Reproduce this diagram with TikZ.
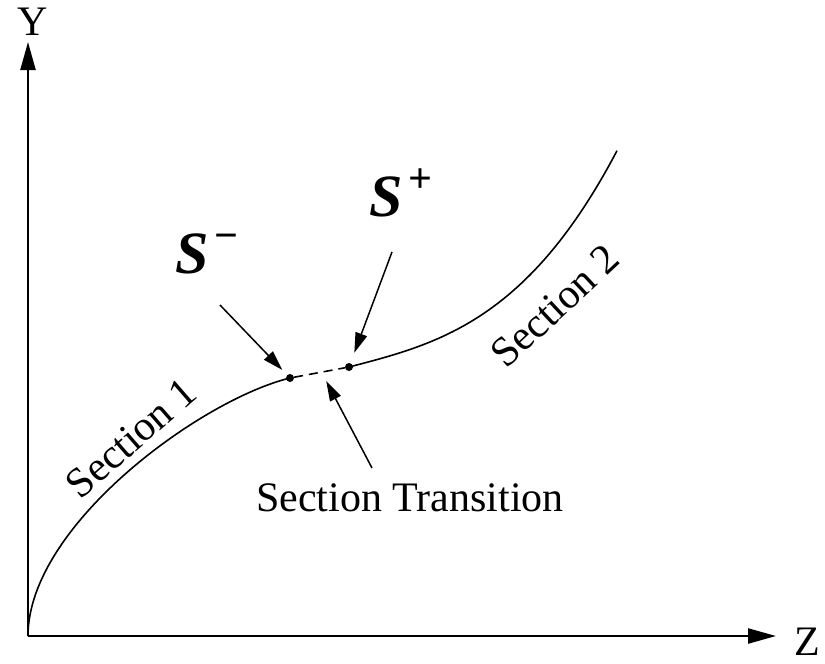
\documentclass[tikz,border=0pt]{standalone}
\usepackage{fontspec}
\setmainfont{Liberation Serif}
\usetikzlibrary{arrows.meta}
\begin{document}
\begin{tikzpicture}[x=1pt,y=-1pt,
  axis/.style={line width=2.4pt,-{Triangle[length=28pt,width=15pt]}},
  curveline/.style={line width=1.6pt},
  pointer/.style={line width=1.5pt,-{Triangle[length=20pt,width=12pt]}},
  dotnode/.style={circle,fill=black,inner sep=0pt,minimum size=8pt},
  lbl/.style={font=\fontsize{42}{48}\selectfont,inner sep=0pt},
  slbl/.style={font=\fontsize{60}{64}\selectfont\bfseries\itshape,inner sep=0pt}]
\useasboundingbox (0,0) rectangle (825,664);
\fill[white] (0,0) rectangle (825,664);
% axes
\coordinate (O) at (28,636);
\coordinate (Ytip) at (28,42);
\coordinate (Ztip) at (776,636);
\draw[axis] (O) -- (Ytip);
\draw[axis] (O) -- (Ztip);
\node[lbl] (Ylab) at (33,22) {Y};
\node[lbl] (Zlab) at (807,642) {Z};
% points
\node[dotnode] (Sm) at (290,378) {};
\node[dotnode] (Sp) at (349,367) {};
% section 1
\draw[curveline] (O) .. controls (28,526) and (200,400) .. (Sm.center);
% transition
\draw[curveline,dash pattern=on 9pt off 6pt] (Sm) -- (Sp);
% section 2
\draw[curveline] plot[domain=0:268,samples=60] ({349+\x},{367-0.259*\x-7.63*(\x/100)^3});
% labels
\node[lbl,rotate=41] (Sec1) at (131,438) {Section 1};
\node[lbl,rotate=43] (Sec2) at (555,306) {Section 2};
\node[lbl] (Trans) at (410,498) {Section Transition};
\node[slbl] (Smlab) at (207,254) {S\raisebox{24pt}{\fontsize{42}{48}\selectfont\upshape\kern6pt−}};
\node[slbl] (Splab) at (401,193) {S\raisebox{24pt}{\fontsize{42}{48}\selectfont\upshape\kern5pt+}};
% pointers
\coordinate (Am) at (220,305);
\coordinate (Ap) at (392,252);
\coordinate (At) at (372,468);
\coordinate (Mid) at (322,373);
\draw[pointer,shorten >=7pt] (Am) -- (Sm);
\draw[pointer,shorten >=11pt] (Ap) -- (Sp);
\draw[pointer,shorten >=9pt] (At) -- (Mid);
\end{tikzpicture}
\end{document}
